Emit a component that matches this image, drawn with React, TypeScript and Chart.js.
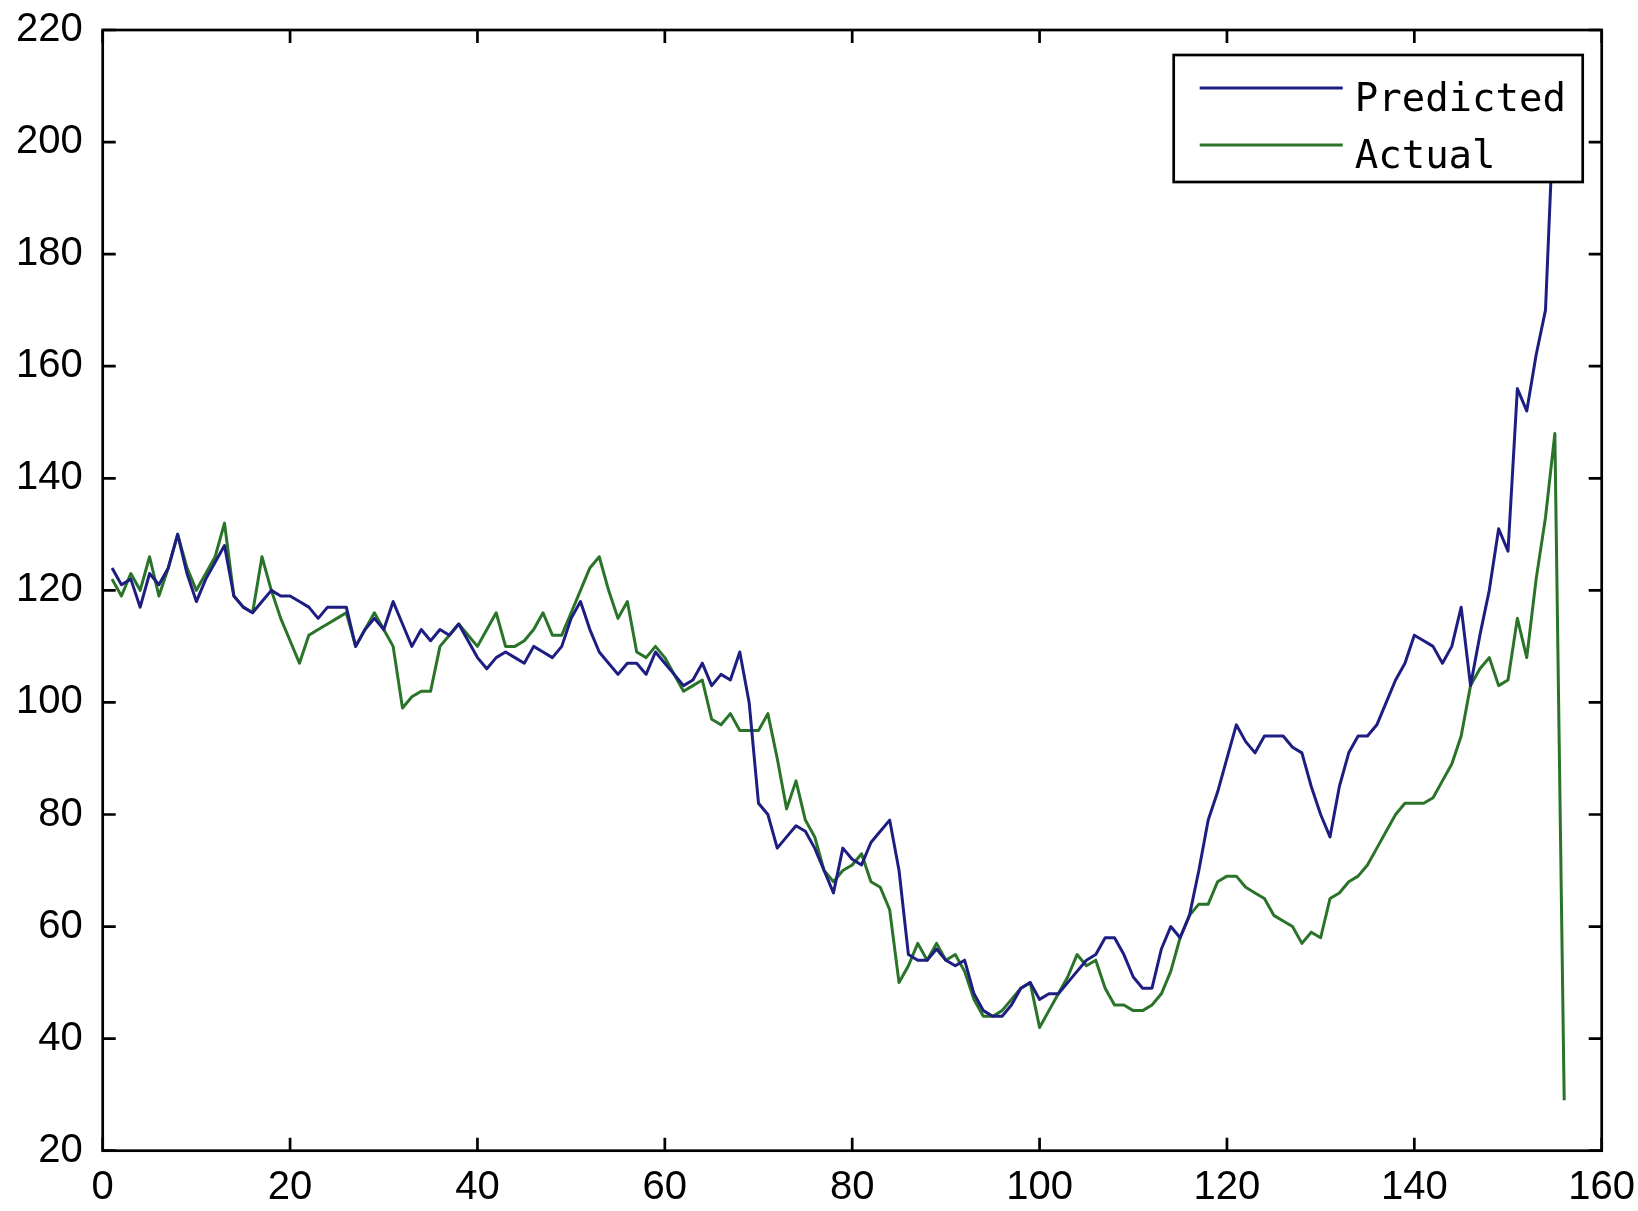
import React, { useEffect, useRef } from 'react';
import { Chart, registerables } from 'chart.js';

Chart.register(...registerables);

// x positions start at 1 (index-based plot)
const startIndex = 1;

const seriesNames = ['Predicted', 'Actual'];
const seriesColors = ['#1e1e82', '#2a742a'];

const predicted = [
  124, 121, 122, 117, 123, 121, 124, 130, 123, 118,
  122, 125, 128, 119, 117, 116, 118, 120, 119, 119,
  118, 117, 115, 117, 117, 117, 110, 113, 115, 113,
  118, 114, 110, 113, 111, 113, 112, 114, 111, 108,
  106, 108, 109, 108, 107, 110, 109, 108, 110, 115,
  118, 113, 109, 107, 105, 107, 107, 105, 109, 107,
  105, 103, 104, 107, 103, 105, 104, 109, 100, 82,
  80, 74, 76, 78, 77, 74, 70, 66, 74, 72,
  71, 75, 77, 79, 70, 55, 54, 54, 56, 54,
  53, 54, 48, 45, 44, 44, 46, 49, 50, 47,
  48, 48, 50, 52, 54, 55, 58, 58, 55, 51,
  49, 49, 56, 60, 58, 62, 70, 79, 84, 90,
  96, 93, 91, 94, 94, 94, 92, 91, 85, 80,
  76, 85, 91, 94, 94, 96, 100, 104, 107, 112,
  111, 110, 107, 110, 117, 103, 112, 120, 131, 127,
  156, 152, 162, 170, 210,
];

const actual = [
  122, 119, 123, 120, 126, 119, 124, 130, 124, 120,
  123, 126, 132, 119, 117, 116, 126, 120, 115, 111,
  107, 112, 113, 114, 115, 116, 110, 113, 116, 113,
  110, 99, 101, 102, 102, 110, 112, 114, 112, 110,
  113, 116, 110, 110, 111, 113, 116, 112, 112, 116,
  120, 124, 126, 120, 115, 118, 109, 108, 110, 108,
  105, 102, 103, 104, 97, 96, 98, 95, 95, 95,
  98, 90, 81, 86, 79, 76, 70, 68, 70, 71,
  73, 68, 67, 63, 50, 53, 57, 54, 57, 54,
  55, 52, 47, 44, 44, 45, 47, 49, 50, 42,
  45, 48, 51, 55, 53, 54, 49, 46, 46, 45,
  45, 46, 48, 52, 58, 62, 64, 64, 68, 69,
  69, 67, 66, 65, 62, 61, 60, 57, 59, 58,
  65, 66, 68, 69, 71, 74, 77, 80, 82, 82,
  82, 83, 86, 89, 94, 103, 106, 108, 103, 104,
  115, 108, 122, 133, 148, 29,
];

const xTicks = [0, 20, 40, 60, 80, 100, 120, 140, 160];
const yTicks = [20, 40, 60, 80, 100, 120, 140, 160, 180, 200, 220];

const tickFont = { family: '"Liberation Sans", Arial, sans-serif', size: 40 };
const legendFont = '39px "DejaVu Sans Mono", "Liberation Mono", monospace';

const framePlugin = {
  id: 'matlabFrame',
  afterDatasetsDraw(chart: any) {
    const { ctx, chartArea: a, scales } = chart;
    ctx.save();
    ctx.strokeStyle = '#000';
    ctx.lineWidth = 2.7;
    ctx.strokeRect(a.left, a.top, a.right - a.left, a.bottom - a.top);
    const L = 13;
    ctx.beginPath();
    for (const v of xTicks) {
      const px = scales.x.getPixelForValue(v);
      ctx.moveTo(px, a.bottom);
      ctx.lineTo(px, a.bottom - L);
      ctx.moveTo(px, a.top);
      ctx.lineTo(px, a.top + L);
    }
    for (const v of yTicks) {
      const py = scales.y.getPixelForValue(v);
      ctx.moveTo(a.left, py);
      ctx.lineTo(a.left + L, py);
      ctx.moveTo(a.right, py);
      ctx.lineTo(a.right - L, py);
    }
    ctx.stroke();

    // legend box (inside, top-right)
    const bx = a.right - 428;
    const by = a.top + 25;
    const bw = 409;
    const bh = 127;
    ctx.fillStyle = '#fff';
    ctx.fillRect(bx, by, bw, bh);
    ctx.lineWidth = 2.7;
    ctx.strokeStyle = '#000';
    ctx.strokeRect(bx, by, bw, bh);
    ctx.font = legendFont;
    ctx.textBaseline = 'alphabetic';
    ctx.textAlign = 'left';
    chart.data.datasets.forEach((ds: any, i: number) => {
      const ly = by + 33 + i * 57;
      ctx.strokeStyle = ds.borderColor;
      ctx.lineWidth = 3;
      ctx.beginPath();
      ctx.moveTo(bx + 26, ly);
      ctx.lineTo(bx + 169, ly);
      ctx.stroke();
      ctx.fillStyle = '#000';
      ctx.fillText(ds.label, bx + 181, ly + 23);
    });
    ctx.restore();
  },
};

const clearPadding = (scale: any) => {
  scale.paddingTop = 0;
  scale.paddingBottom = 0;
  scale.paddingLeft = 0;
  scale.paddingRight = 0;
};

export default function App() {
  const canvasRef = useRef<HTMLCanvasElement | null>(null);

  useEffect(() => {
    const canvas = canvasRef.current;
    if (!canvas) return;
    const toPoints = (arr: number[]) => arr.map((y, i) => ({ x: i + startIndex, y }));
    const chart = new Chart(canvas, {
      type: 'line',
      data: {
        datasets: [
          {
            label: seriesNames[0],
            data: toPoints(predicted),
            borderColor: seriesColors[0],
            borderWidth: 3,
            pointRadius: 0,
            tension: 0,
            fill: false,
            borderJoinStyle: 'round',
          },
          {
            label: seriesNames[1],
            data: toPoints(actual),
            borderColor: seriesColors[1],
            borderWidth: 3,
            pointRadius: 0,
            tension: 0,
            fill: false,
            borderJoinStyle: 'round',
          },
        ],
      },
      options: {
        animation: false,
        responsive: false,
        maintainAspectRatio: false,
        layout: { padding: { top: 30, right: 36.3, left: 0, bottom: 0 } },
        plugins: {
          legend: { display: false },
          tooltip: { enabled: false },
        },
        scales: {
          x: {
            type: 'linear',
            min: 0,
            max: 160,
            grid: { display: false, drawTicks: false, tickLength: 0 },
            border: { display: false },
            ticks: {
              color: '#000',
              font: tickFont,
              padding: 13,
              maxRotation: 0,
              autoSkip: false,
            },
            afterBuildTicks: (scale: any) => {
              scale.ticks = xTicks.map((v) => ({ value: v }));
            },
            afterFit: (scale: any) => {
              scale.height = 60.3;
              clearPadding(scale);
            },
          },
          y: {
            type: 'linear',
            min: 20,
            max: 220,
            grid: { display: false, drawTicks: false, tickLength: 0 },
            border: { display: false },
            ticks: {
              color: '#000',
              font: tickFont,
              padding: 20,
              autoSkip: false,
            },
            afterBuildTicks: (scale: any) => {
              scale.ticks = yTicks.map((v) => ({ value: v }));
            },
            afterFit: (scale: any) => {
              scale.width = 102.7;
              clearPadding(scale);
            },
          },
        },
      } as any,
      plugins: [framePlugin],
    });
    return () => chart.destroy();
  }, []);

  return (
    <div
      style={{
        position: 'absolute',
        left: 0,
        top: 0,
        width: 1638,
        height: 1211,
        background: '#fff',
        overflow: 'hidden',
      }}
    >
      <canvas ref={canvasRef} width={1638} height={1211} style={{ display: 'block' }} />
    </div>
  );
}
